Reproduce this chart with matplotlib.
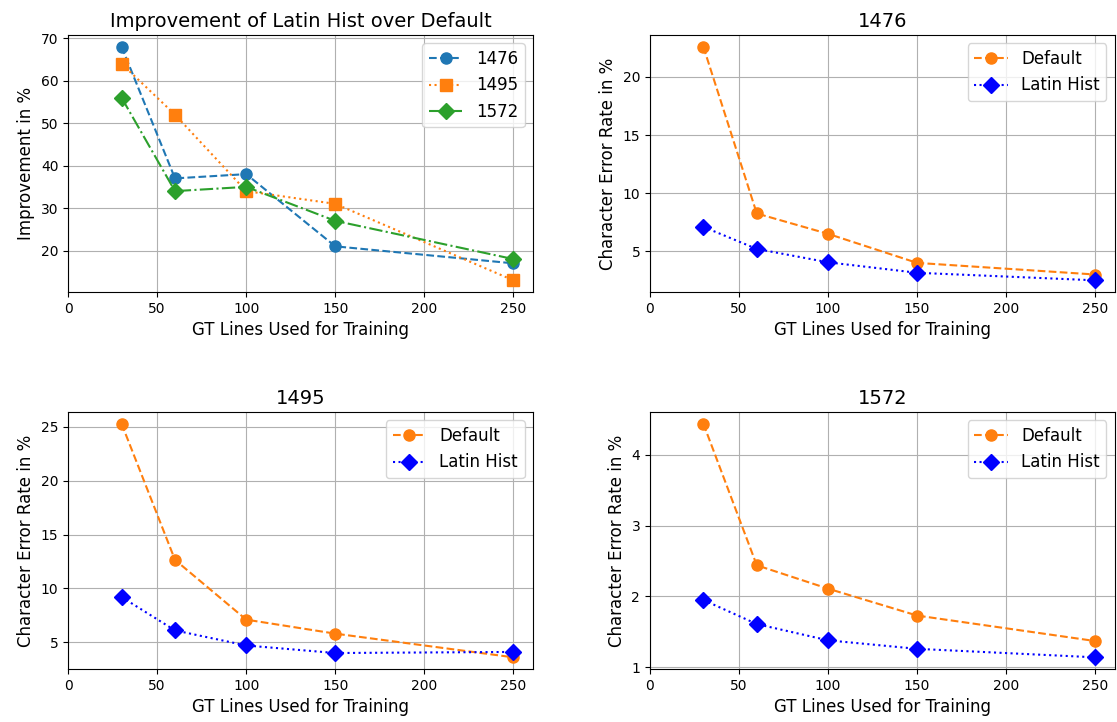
import matplotlib
matplotlib.use('Agg')
import matplotlib.pyplot as plt
from matplotlib.ticker import MultipleLocator

# GT lines used for training
gt_lines = [30, 60, 100, 150, 250]

# improvement of Latin Hist over Default, in %
improvement_1476 = [68, 37, 38, 21, 17]
improvement_1495 = [64, 52, 34, 31, 13]
improvement_1572 = [56, 34, 35, 27, 18]

# character error rates, in %
default_1476 = [22.6, 8.25, 6.5, 4.0, 3.0]
latin_1476 = [7.1, 5.2, 4.05, 3.15, 2.5]
default_1495 = [25.3, 12.65, 7.1, 5.8, 3.6]
latin_1495 = [9.2, 6.1, 4.7, 4.0, 4.1]
default_1572 = [4.44, 2.44, 2.11, 1.73, 1.37]
latin_1572 = [1.95, 1.61, 1.38, 1.26, 1.14]

books = ['1476', '1495', '1572']
# spacing of the y ticks on each CER panel
cer_tick_steps = [5, 5, 1]

plt.rcParams['xtick.labelsize'] = 10
plt.rcParams['ytick.labelsize'] = 10
plt.rcParams['axes.labelsize'] = 12
plt.rcParams['legend.fontsize'] = 12
plt.rcParams['axes.titlesize'] = 14
plt.rcParams['lines.markersize'] = 8

fig, axes = plt.subplots(2, 2, figsize=(11.17, 7.22), dpi=100)
fig.subplots_adjust(left=0.061, right=0.998, top=0.9515, bottom=0.0734,
                    wspace=0.2516, hspace=0.467)

ax = axes[0][0]
ax.plot(gt_lines, improvement_1476, 'o--', color='C0', label=books[0])
ax.plot(gt_lines, improvement_1495, 's:', color='C1', label=books[1])
ax.plot(gt_lines, improvement_1572, 'D-.', color='C2', label=books[2])
ax.set_title('Improvement of Latin Hist over Default')
ax.set_ylabel('Improvement in %')
ax.set_xlabel('GT Lines Used for Training')
ax.set_xlim(left=0)
ax.yaxis.set_major_locator(MultipleLocator(10))
ax.grid(True)
ax.legend(loc='upper right')

cer_data = [(default_1476, latin_1476), (default_1495, latin_1495), (default_1572, latin_1572)]
panels = [axes[0][1], axes[1][0], axes[1][1]]
for ax, book, (default, latin), step in zip(panels, books, cer_data, cer_tick_steps):
    ax.plot(gt_lines, default, 'o--', color='C1', label='Default')
    ax.plot(gt_lines, latin, 'D:', color='blue', label='Latin Hist')
    ax.set_title(book)
    ax.set_ylabel('Character Error Rate in %')
    ax.set_xlabel('GT Lines Used for Training')
    ax.set_xlim(left=0)
    ax.yaxis.set_major_locator(MultipleLocator(step))
    ax.grid(True)
    ax.legend(loc='upper right')

plt.savefig('out.png')
